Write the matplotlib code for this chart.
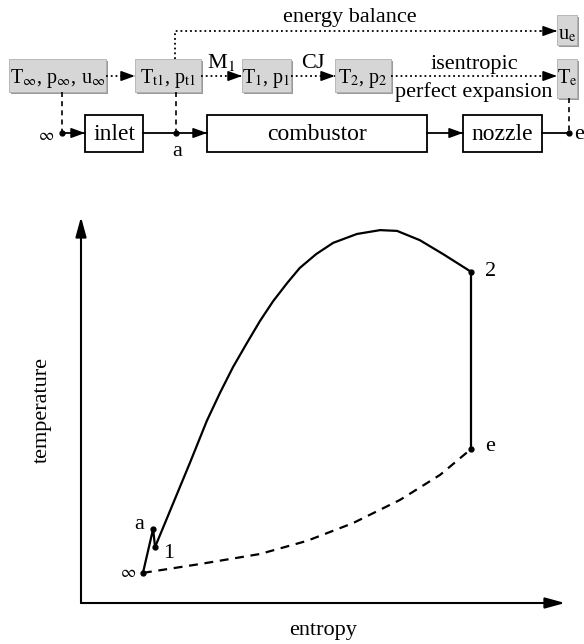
import matplotlib.pyplot as plt
from matplotlib.patches import Rectangle

plt.rcParams['font.family'] = 'Liberation Serif'
plt.rcParams['mathtext.fontset'] = 'stix'
FS = 16

# T-s diagram data (normalised entropy / temperature)
s_inlet = [0.128, 0.149, 0.153]          # inf -> a -> 1
T_inlet = [0.078, 0.192, 0.145]
s_comb = [0.153, 0.188, 0.225, 0.260, 0.287, 0.314, 0.343, 0.370, 0.397, 0.426,
          0.452, 0.486, 0.521, 0.570, 0.618, 0.653, 0.700, 0.748, 0.806]
T_comb = [0.145, 0.251, 0.363, 0.472, 0.544, 0.611, 0.674, 0.731, 0.782, 0.829,
          0.868, 0.904, 0.933, 0.956, 0.966, 0.964, 0.940, 0.904, 0.858]
s_noz = [0.806, 0.806]
T_noz = [0.858, 0.399]
s_ideal = [0.128, 0.246, 0.370, 0.467, 0.562, 0.659, 0.742, 0.806]
T_ideal = [0.078, 0.101, 0.127, 0.161, 0.207, 0.267, 0.332, 0.399]
pt_names = [r'$\infty$', 'a', '1', '2', 'e']
pt_s = [0.128, 0.149, 0.153, 0.806, 0.806]
pt_T = [0.078, 0.192, 0.145, 0.858, 0.399]
pt_off = [(-11, 0), (-10, 3), (10, -5), (14, 0), (14, 2)]

# flow diagram: state boxes (x0, x1, y0, y1) in pixels
state_text = [r'T$_\infty$, p$_\infty$, u$_\infty$', r'T$_{\rm t1}$, p$_{\rm t1}$',
              r'T$_1$, p$_1$', r'T$_2$, p$_2$', r'u$_{\rm e}$', r'T$_{\rm e}$']
state_box = [(9, 106, 59, 92), (135, 201, 59, 92), (242, 291, 59, 92),
             (335, 391, 59, 92), (557, 577, 15, 45), (557, 577, 59, 98)]
comp_text = ['inlet', 'combustor', 'nozzle']
comp_box = [(85, 143, 115, 152), (207, 427, 115, 152), (463, 542, 115, 152)]

W, H = 584, 644
fig = plt.figure(figsize=(W / 100, H / 100), dpi=100)

dg = fig.add_axes([0, 0, 1, 1])
dg.set_xlim(0, W)
dg.set_ylim(H, 0)
dg.axis('off')

HEAD = dict(arrowstyle='-|>,head_length=0.55,head_width=0.2', color='k',
            lw=1.2, shrinkA=0, shrinkB=0, mutation_scale=15)


def arrow(axe, x0, y0, x1, y1, ls='-', head=True):
    axe.plot([x0, x1], [y0, y1], color='k', ls=ls, lw=1.3)
    if head:
        dx, dy = x1 - x0, y1 - y0
        n = (dx ** 2 + dy ** 2) ** 0.5
        axe.annotate('', xy=(x1, y1), xytext=(x1 - 6 * dx / n, y1 - 6 * dy / n),
                     arrowprops=HEAD)


for (x0, x1, y0, y1), t in zip(state_box, state_text):
    dg.add_patch(Rectangle((x0 + 1.5, y0 + 1.5), x1 - x0, y1 - y0, fc='#9a9a9a', ec='none'))
    dg.add_patch(Rectangle((x0, y0), x1 - x0, y1 - y0, fc='#d6d6d6', ec='#b0b0b0', lw=0.6))
    dg.text((x0 + x1) / 2, y0 + 24, t, fontsize=FS - 1.5, ha='center', va='baseline')

for (x0, x1, y0, y1), t in zip(comp_box, comp_text):
    dg.add_patch(Rectangle((x0, y0), x1 - x0, y1 - y0, fc='white', ec='k', lw=1.3))
    dg.text((x0 + x1) / 2, (y0 + y1) / 2 + 1, t, fontsize=FS + 1, ha='center', va='center')

# dotted information flow
arrow(dg, 106, 76, 135, 76, ':')
arrow(dg, 201, 76, 242, 76, ':')
arrow(dg, 291, 76, 335, 76, ':')
arrow(dg, 391, 76, 557, 76, ':')
dg.plot([175, 175, 540], [59, 31, 31], color='k', ls=':', lw=1.3)
arrow(dg, 540, 31, 557, 31, ':')
dg.text(221, 68, r'M$_1$', fontsize=FS, ha='center', va='baseline')
dg.text(313, 68, 'CJ', fontsize=FS, ha='center', va='baseline')
dg.text(474, 69, 'isentropic', fontsize=FS, ha='center', va='baseline')
dg.text(474, 97, 'perfect expansion', fontsize=FS, ha='center', va='baseline')
dg.text(350, 22, 'energy balance', fontsize=FS, ha='center', va='baseline')

# physical flow path
arrow(dg, 62, 133, 85, 133)
arrow(dg, 143, 133, 207, 133)
arrow(dg, 427, 133, 463, 133)
arrow(dg, 542, 133, 569, 133, head=False)
for x, y0 in [(62, 92), (176, 92), (569, 98)]:
    dg.plot([x, x], [y0, 133], color='k', ls=(0, (3, 2.5)), lw=1.2)
    dg.plot(x, 133, 'o', color='k', ms=3.5)
dg.text(54, 136, r'$\infty$', fontsize=FS - 4, ha='right', va='center')
dg.text(177, 151, 'a', fontsize=FS, ha='center', va='center')
dg.text(574, 134, 'e', fontsize=FS, ha='left', va='center')

# T-s diagram
ax = fig.add_axes([81 / W, (H - 603) / H, (565 - 81) / W, (603 - 217) / H])
ax.set_xlim(0, 1)
ax.set_ylim(0, 1)
ax.axis('off')
AX_HEAD = dict(arrowstyle='-|>,head_length=0.8,head_width=0.22', color='k',
               lw=1.5, shrinkA=0, shrinkB=0, mutation_scale=15)
ax.annotate('', xy=(1, 0), xytext=(0, 0), xycoords='axes fraction', arrowprops=AX_HEAD)
ax.annotate('', xy=(0, 1), xytext=(0, 0), xycoords='axes fraction', arrowprops=AX_HEAD)

LINE = dict(color='k', lw=1.6, solid_joinstyle='round', dash_joinstyle='round')
ax.plot(s_inlet, T_inlet, **LINE)
ax.plot(s_comb, T_comb, **LINE)
ax.plot(s_noz, T_noz, **LINE)
ax.plot(s_ideal, T_ideal, ls=(0, (4, 3)), **LINE)
ax.plot(pt_s, pt_T, 'o', color='k', ms=3.5, clip_on=False)
for n, s, t, off in zip(pt_names, pt_s, pt_T, pt_off):
    ax.annotate(n, (s, t), xytext=off, textcoords='offset points',
                fontsize=FS - 4 if n.startswith('$') else FS, ha='center', va='center')

ax.text(0.5, -0.07, 'entropy', transform=ax.transAxes, fontsize=FS, ha='center', va='center')
ax.text(-0.08, 0.5, 'temperature', transform=ax.transAxes, fontsize=FS,
        ha='center', va='center', rotation=90)

fig.savefig('out.png', dpi=100)
